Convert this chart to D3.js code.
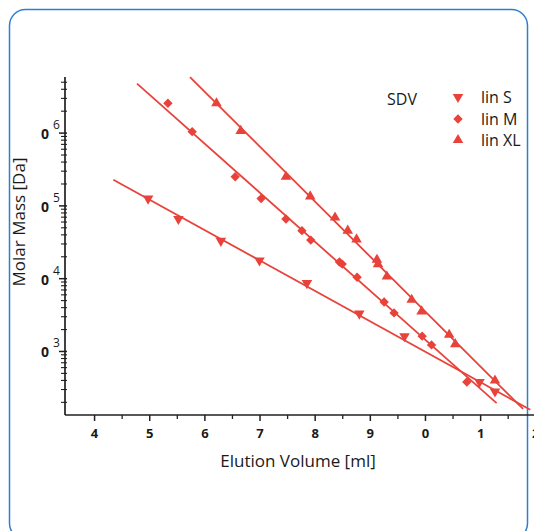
<!DOCTYPE html>
<html><head><meta charset="utf-8">
<script src="https://cdn.jsdelivr.net/npm/d3@7"></script>
<style>
html,body{margin:0;padding:0;background:#fff;overflow:hidden;}
svg{display:block;}
text{font-family:"Open Sans","Noto Sans",sans-serif;fill:#1a1a1a;}
</style></head>
<body>
<script>
// ---- data ----
const sVol  = [4.97, 5.52, 6.29, 6.99, 7.85, 8.80, 9.62, 10.98, 11.26];
const sLogM = [5.10, 4.82, 4.52, 4.25, 3.94, 3.52, 3.21, 2.58, 2.45];
const mVol  = [5.33, 5.77, 6.55, 7.02, 7.47, 7.76, 7.92, 8.44, 8.49, 8.76, 9.25, 9.43, 9.94, 10.11, 10.75];
const mLogM = [6.41, 6.02, 5.40, 5.10, 4.82, 4.66, 4.53, 4.23, 4.20, 4.02, 3.68, 3.53, 3.21, 3.09, 2.58];
const xlVol  = [6.21, 6.65, 7.47, 7.91, 8.36, 8.59, 8.75, 9.12, 9.14, 9.30, 9.75, 9.93, 10.43, 10.54, 11.26];
const xlLogM = [6.41, 6.03, 5.40, 5.13, 4.84, 4.66, 4.54, 4.26, 4.20, 4.03, 3.71, 3.55, 3.23, 3.10, 2.60];
// calibration fit lines: [volume, log10 M] end points
const sFit  = [[4.34, 5.36], [11.90, 2.20]];
const mFit  = [[4.77, 6.68], [11.29, 2.29]];
const xlFit = [[5.73, 6.77], [11.77, 2.21]];
const xTicks = [4, 5, 6, 7, 8, 9, 10, 11, 12];
const xTickLabels = ["4", "5", "6", "7", "8", "9", "0", "1", "2"];
const yTicks = [1e3, 1e4, 1e5, 1e6];
const yTickExp = ["3", "4", "5", "6"];
const legendLabels = ["lin S", "lin M", "lin XL"];

const W = 534, H = 531;
const red = "#e8423a";
const svg = d3.select("body").append("svg").attr("width", W).attr("height", H);

// frame
svg.append("rect").attr("x", 9.5).attr("y", 9.5).attr("width", 518).attr("height", 530)
  .attr("rx", 16).attr("fill", "none").attr("stroke", "#2f7fce").attr("stroke-width", 1.5);

const x = d3.scaleLinear().domain([3.5, 12.4]).range([67, 67 + 8.9 * 55.15]);
const y = d3.scaleLog().domain([134, 5.9e6]).range([415, 77]);

const axisCol = "#231f20";
// x axis
const gx = svg.append("g");
gx.append("line").attr("x1", 65).attr("x2", W).attr("y1", 415).attr("y2", 415)
  .attr("stroke", axisCol).attr("stroke-width", 1.7);
const xMinor = d3.range(4.5, 12.5, 1);
gx.selectAll("line.maj").data(xTicks).join("line")
  .attr("x1", d => x(d)).attr("x2", d => x(d)).attr("y1", 415).attr("y2", 421)
  .attr("stroke", axisCol).attr("stroke-width", 1.5);
gx.selectAll("line.min").data(xMinor).join("line")
  .attr("x1", d => x(d)).attr("x2", d => x(d)).attr("y1", 415).attr("y2", 419)
  .attr("stroke", axisCol).attr("stroke-width", 1.3);
gx.selectAll("text").data(xTicks).join("text")
  .attr("x", d => x(d)).attr("y", 438).attr("text-anchor", "middle")
  .attr("font-size", 13).attr("font-weight", "bold")
  .text((d, i) => xTickLabels[i]);
svg.append("text").attr("x", 298).attr("y", 467).attr("text-anchor", "middle")
  .attr("font-size", 17).text("Elution Volume [ml]");

// y axis
const gy = svg.append("g");
gy.append("line").attr("x1", 65).attr("x2", 65).attr("y1", y.range()[1]).attr("y2", 415)
  .attr("stroke", axisCol).attr("stroke-width", 1.7);
const yMinor = [];
[100, 1e3, 1e4, 1e5, 1e6].forEach(b => { for (let k = 2; k <= 9; k++) { const v = b * k; if (v >= 134 && v <= 5.9e6) yMinor.push(v); } });
gy.selectAll("line.min").data(yMinor).join("line")
  .attr("x1", 61).attr("x2", 67).attr("y1", d => y(d)).attr("y2", d => y(d))
  .attr("stroke", axisCol).attr("stroke-width", 1.1);
gy.selectAll("line.maj").data(yTicks).join("line")
  .attr("x1", 59).attr("x2", 67).attr("y1", d => y(d)).attr("y2", d => y(d))
  .attr("stroke", axisCol).attr("stroke-width", 1.5);
const yl = gy.selectAll("text").data(yTicks).join("text")
  .attr("x", 41).attr("y", d => y(d) + 6).attr("font-size", 14).attr("font-weight", "bold");
yl.append("tspan").text("0");
yl.append("tspan").attr("dx", 4).attr("dy", -10).attr("font-size", 12).attr("font-weight", "normal")
  .text((d, i) => yTickExp[i]);
svg.append("text").attr("transform", "translate(25,222) rotate(-90)").attr("text-anchor", "middle")
  .attr("font-size", 17).text("Molar Mass [Da]");

// fit lines
const line = d3.line().x(d => x(d[0])).y(d => y(Math.pow(10, d[1])));
[sFit, mFit, xlFit].forEach(f => {
  svg.append("path").attr("d", line(f)).attr("fill", "none").attr("stroke", red).attr("stroke-width", 1.8);
});

// markers
const triUp = d3.symbol().type(d3.symbolTriangle).size(48);
const diamond = d3.symbol().type(d3.symbolSquare).size(44);
function pts(vols, logs) { return vols.map((v, i) => [v, logs[i]]); }
svg.append("g").selectAll("path").data(pts(sVol, sLogM)).join("path")
  .attr("d", triUp()).attr("fill", red)
  .attr("transform", d => `translate(${x(d[0])},${y(Math.pow(10, d[1]))}) rotate(180)`);
svg.append("g").selectAll("path").data(pts(mVol, mLogM)).join("path")
  .attr("d", diamond()).attr("fill", red)
  .attr("transform", d => `translate(${x(d[0])},${y(Math.pow(10, d[1]))}) rotate(45)`);
svg.append("g").selectAll("path").data(pts(xlVol, xlLogM)).join("path")
  .attr("d", triUp()).attr("fill", red)
  .attr("transform", d => `translate(${x(d[0])},${y(Math.pow(10, d[1]))})`);

// legend
svg.append("text").attr("x", 387).attr("y", 105).attr("font-size", 16).text("SDV");
const lg = svg.append("g");
const legY = [97, 119, 140];
lg.append("path").attr("d", triUp()).attr("fill", red).attr("transform", `translate(458,${legY[0]}) rotate(180)`);
lg.append("path").attr("d", diamond()).attr("fill", red).attr("transform", `translate(458,${legY[1]}) rotate(45)`);
lg.append("path").attr("d", triUp()).attr("fill", red).attr("transform", `translate(458,${legY[2]})`);
lg.selectAll("text").data(legendLabels).join("text")
  .attr("x", 481).attr("y", (d, i) => legY[i] + 6).attr("font-size", 16).text(d => d);
</script>
</body></html>
